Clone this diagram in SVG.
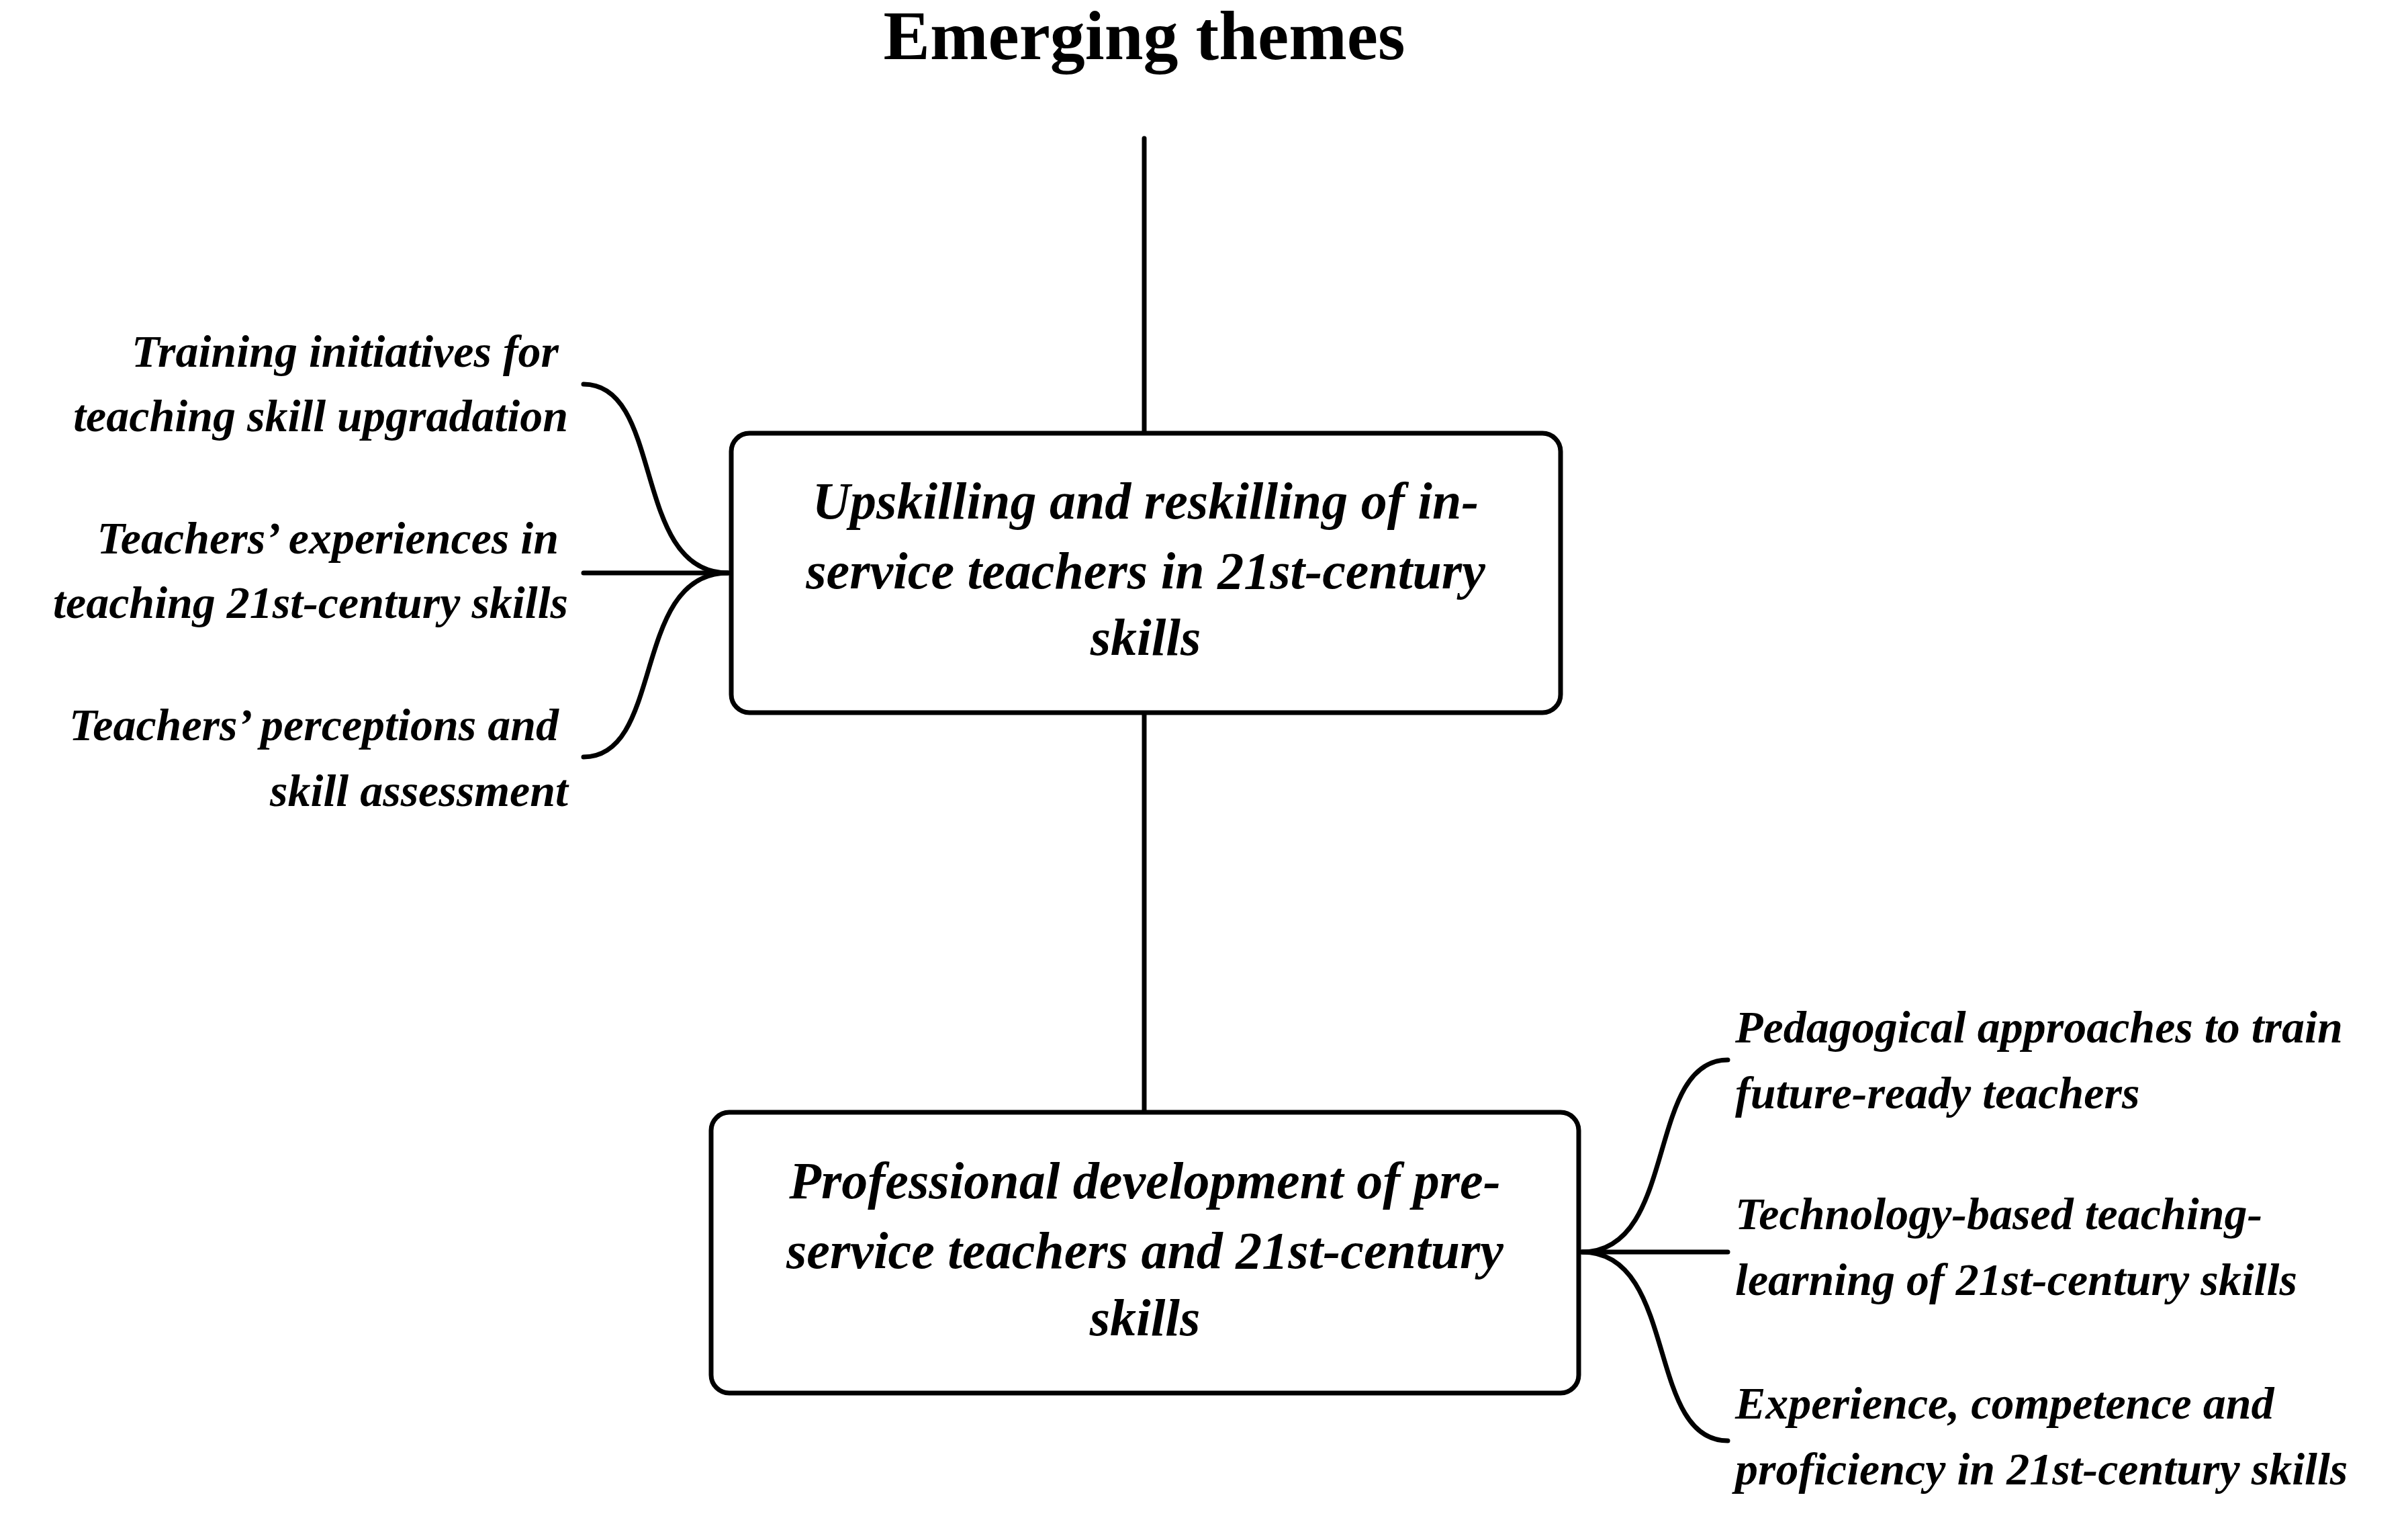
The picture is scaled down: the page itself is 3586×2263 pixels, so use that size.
<svg xmlns="http://www.w3.org/2000/svg" width="3586" height="2263" viewBox="0 0 3586 2263">
<style>
.ln{fill:none;stroke:#000;stroke-width:7;stroke-linecap:round}
.box{fill:#fff;stroke:#000;stroke-width:7}
.bt{font-family:"Liberation Serif",serif;font-style:italic;font-weight:bold;font-size:78px;text-anchor:middle}
.lt{font-family:"Liberation Serif",serif;font-style:italic;font-weight:bold;font-size:68px;text-anchor:end}
.rt{font-family:"Liberation Serif",serif;font-style:italic;font-weight:bold;font-size:68px;text-anchor:start}
</style>
<rect width="3586" height="2263" fill="#fff"/>
<text x="1704" y="88" font-family="Liberation Serif,serif" font-weight="bold" font-size="104" text-anchor="middle">Emerging themes</text>
<g id="connectors">
<line class="ln" x1="1704" y1="206" x2="1704" y2="645"/>
<line class="ln" x1="1704" y1="1061" x2="1704" y2="1656"/>
<path class="ln" d="M869,572 C990,572 940,853 1084,853"/>
<path class="ln" d="M869,1127 C990,1127 940,853 1084,853"/>
<line class="ln" x1="869" y1="853" x2="1084" y2="853"/>
<path class="ln" d="M2573,1578 C2450,1578 2500,1864 2356,1864"/>
<path class="ln" d="M2573,2145 C2450,2145 2500,1864 2356,1864"/>
<line class="ln" x1="2356" y1="1864" x2="2573" y2="1864"/>
</g>
<g id="box1">
<rect class="box" x="1089" y="645" width="1235" height="416" rx="27"/>
<text class="bt" x="1706" y="772">Upskilling and reskilling of in-</text>
<text class="bt" x="1706" y="876">service teachers in 21st-century</text>
<text class="bt" x="1706" y="975">skills</text>
</g>
<g id="box2">
<rect class="box" x="1059" y="1656" width="1292" height="418" rx="27"/>
<text class="bt" x="1705" y="1784">Professional development of pre-</text>
<text class="bt" x="1705" y="1888">service teachers and 21st-century</text>
<text class="bt" x="1705" y="1988">skills</text>
</g>
<g id="left1"><text class="lt" x="832" y="546">Training initiatives for</text><text class="lt" x="846" y="642">teaching skill upgradation</text></g>
<g id="left2"><text class="lt" x="832" y="824">Teachers’ experiences in</text><text class="lt" x="846" y="920">teaching 21st-century skills</text></g>
<g id="left3"><text class="lt" x="832" y="1102">Teachers’ perceptions and</text><text class="lt" x="846" y="1200">skill assessment</text></g>
<g id="right1"><text class="rt" x="2584" y="1552">Pedagogical approaches to train</text><text class="rt" x="2584" y="1650">future-ready teachers</text></g>
<g id="right2"><text class="rt" x="2584" y="1830">Technology-based teaching-</text><text class="rt" x="2584" y="1928">learning of 21st-century skills</text></g>
<g id="right3"><text class="rt" x="2584" y="2112">Experience, competence and</text><text class="rt" x="2584" y="2210">proficiency in 21st-century skills</text></g>
</svg>
